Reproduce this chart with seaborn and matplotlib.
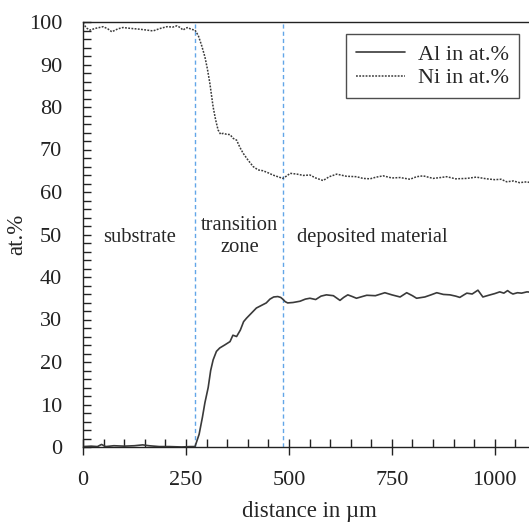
import matplotlib
matplotlib.use("Agg")
import matplotlib.pyplot as plt
import seaborn as sns
import pandas as pd
from matplotlib.ticker import MultipleLocator
from matplotlib.lines import Line2D

ni_x = [0, 8, 17, 30, 49, 60, 70, 85, 97, 115, 138, 155, 170, 188, 204, 218, 228, 236, 243, 250, 255, 262, 272,
        280, 288, 296, 302, 308, 316, 322, 328, 334, 340, 348, 357, 365, 373, 381, 389, 400, 413, 425, 437, 450,
        461, 473, 485, 495, 503, 520, 535, 551, 565, 583, 598, 616, 640, 664, 680, 697, 712, 729, 750, 770, 794,
        810, 826, 850, 868, 883, 905, 932, 955, 980, 1000, 1015, 1029, 1045, 1060, 1078, 1090]
ni_y = [99.8, 98.6, 98.1, 98.5, 98.9, 98.4, 97.7, 98.4, 98.7, 98.5, 98.3, 98.1, 97.9, 98.5, 98.9, 98.8, 99.1, 98.7,
        98.1, 98.6, 98.7, 98.3, 98.1, 96.8, 94.5, 91.8, 89.0, 85.6, 80.0, 77.0, 74.6, 73.6, 73.8, 73.6, 73.5, 72.6,
        72.2, 70.5, 69.1, 67.6, 66.0, 65.2, 65.0, 64.5, 64.0, 63.6, 63.2, 63.8, 64.4, 64.2, 63.9, 64.0, 63.3, 62.7,
        63.6, 64.2, 63.7, 63.6, 63.2, 63.1, 63.5, 63.8, 63.3, 63.4, 63.0, 63.6, 63.8, 63.2, 63.4, 63.6, 63.1, 63.2,
        63.5, 63.1, 62.9, 63.0, 62.4, 62.6, 62.2, 62.4, 62.1]

al_x = [0, 20, 35, 45, 55, 75, 100, 125, 145, 160, 185, 210, 240, 260, 272, 282, 290, 296, 304, 310, 316, 324, 332,
        344, 357, 364, 373, 382, 390, 397, 409, 421, 433, 445, 454, 463, 473, 480, 485, 491, 497, 510, 527, 540, 551,
        565, 578, 591, 608, 624, 633, 643, 654, 664, 678, 689, 710, 733, 750, 770, 786, 800, 810, 830, 845, 859, 875,
        891, 905, 915, 925, 932, 945, 959, 971, 985, 1000, 1012, 1022, 1031, 1038, 1044, 1055, 1065, 1078, 1090]
al_y = [0.1, 0.2, 0.1, 0.6, 0.1, 0.3, 0.2, 0.3, 0.5, 0.3, 0.1, 0.1, 0.0, 0.1, 0.1, 3.0, 7.0, 10.4, 14.0, 18.0, 20.5,
        22.5, 23.3, 24.0, 24.8, 26.3, 26.0, 27.5, 29.5, 30.3, 31.5, 32.7, 33.3, 33.9, 34.8, 35.3, 35.4, 35.2, 34.8,
        34.2, 33.9, 34.0, 34.3, 34.8, 35.0, 34.7, 35.5, 35.8, 35.6, 34.5, 35.2, 35.8, 35.4, 35.0, 35.4, 35.7, 35.6,
        36.3, 35.8, 35.3, 36.3, 35.6, 35.0, 35.3, 35.8, 36.3, 35.9, 35.8, 35.5, 35.2, 35.8, 36.2, 36.0, 36.9, 35.3,
        35.7, 36.1, 36.5, 36.2, 36.8, 36.3, 36.0, 36.3, 36.2, 36.5, 36.4]

boundaries = [272, 485]
legend_labels = ["Al in at.%", "Ni in at.%"]

sns.set_style("ticks")
plt.rcParams['font.family'] = ['Liberation Serif', 'DejaVu Serif']

fig = plt.figure(figsize=(5.29, 5.22), dpi=100)
ax = fig.add_axes([83/529, 75/522, 453/529, 425/522])

line_col = "#3a3a3a"
ni_style = (0, (1.2, 0.9))
al_df = pd.DataFrame({"x": al_x, "y": al_y})
ni_df = pd.DataFrame({"x": ni_x, "y": ni_y})
sns.lineplot(data=al_df, x="x", y="y", ax=ax, color=line_col, lw=1.2, sort=False)
sns.lineplot(data=ni_df, x="x", y="y", ax=ax, color=line_col, lw=1.1, sort=False, linestyle=ni_style)

for b in boundaries:
    ax.axvline(b, color="#62a6e8", lw=1.0, ls=(0, (3, 2.2)), zorder=1)

ax.set_xlim(0, 1100)
ax.set_ylim(0, 100)
ax.xaxis.set_major_locator(MultipleLocator(250))
ax.xaxis.set_minor_locator(MultipleLocator(50))
ax.yaxis.set_major_locator(MultipleLocator(10))
ax.yaxis.set_minor_locator(MultipleLocator(2))
ax.tick_params(axis='x', which='major', direction='inout', length=11, width=1, labelsize=16, pad=11.5, colors='#222')
ax.tick_params(axis='x', which='minor', direction='in', length=6, width=1, colors='#222')
ax.tick_params(axis='y', which='major', direction='in', length=6, width=1, labelsize=16, pad=15, colors='#222')
ax.tick_params(axis='y', which='minor', direction='in', length=6, width=1, colors='#222')
for s in ax.spines.values():
    s.set_color('#222')
    s.set_linewidth(1.0)

ax.set_xlabel("distance in µm", fontsize=16.5, labelpad=8)
ax.set_ylabel("at.%", fontsize=16.5, labelpad=1)

ax.text(138, 49.4, "substrate", fontsize=14.8, ha='center', va='center')
ax.text(381, 49.6, "transition\nzone", fontsize=14.8, ha='center', va='center', linespacing=1.2)
ax.text(520, 49.4, "deposited material", fontsize=14.8, ha='left', va='center')

handles = [Line2D([], [], color=line_col, lw=1.2),
           Line2D([], [], color=line_col, lw=1.1, linestyle=ni_style)]
leg = fig.legend(handles, legend_labels, loc='upper right', bbox_to_anchor=(519/529, 1 - 34/522),
                 frameon=True, fancybox=False, fontsize=16, handlelength=2.2, borderpad=0.45,
                 labelspacing=0.15, handletextpad=0.6, borderaxespad=0, edgecolor='#222')
leg.get_frame().set_linewidth(1.0)

fig.savefig("out.png", dpi=100)
